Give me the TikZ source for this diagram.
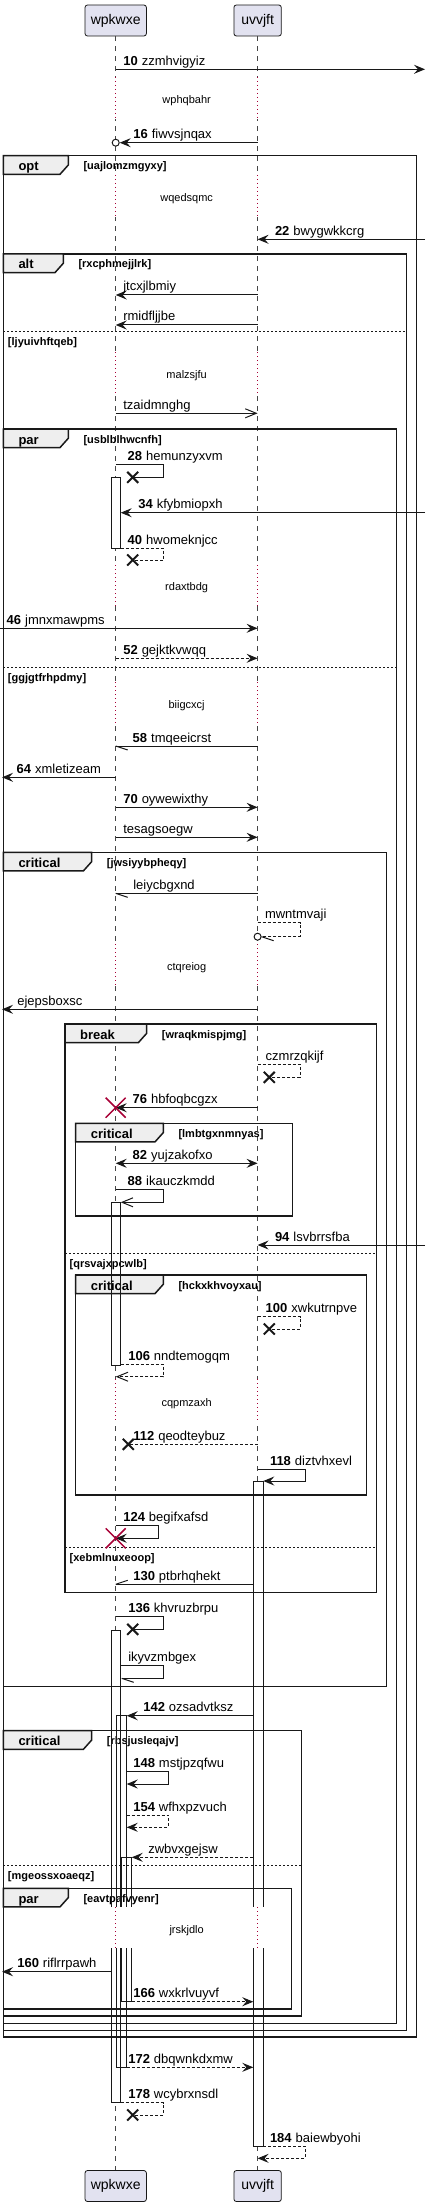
\documentclass[tikz,border=0pt]{standalone}
\usepackage{fontspec}
\setmainfont{Liberation Sans}
\usetikzlibrary{arrows.meta}
\definecolor{ln}{HTML}{181818}
\definecolor{partfill}{HTML}{E2E2F0}
\definecolor{tabfill}{HTML}{EEEEEE}
\definecolor{dlyc}{HTML}{A80036}
\def\sqA{115.7}
\def\sqB{257.6}
\newcommand{\sqMsg}[5]{\coordinate (#1a) at (#2,#4); \coordinate (#1b) at (#3,#4); \draw[#5] (#1a) -- (#1b);}
\newcommand{\sqSelf}[7]{\coordinate (#1a) at (#2,#4); \coordinate (#1b) at (#6,#5); \draw[#7] (#1a) -- (#3,#4) -- (#3,#5) -- (#1b);}
\newcommand{\sqLbl}[4]{\node[lbl] (#1) at (#2,#3) {#4};}
\newcommand{\sqNum}[2]{\textbf{#1}\hspace{4pt}#2}
\newcommand{\sqX}[5]{\coordinate (#1) at (#2,#3); \draw[#5] (#1) ++(-#4,-#4) -- ++(2*#4,2*#4) (#1) ++(-#4,#4) -- ++(2*#4,-2*#4);}
\newcommand{\sqFrame}[8]{%
 \draw[frm] (#2,#3) rectangle (#4,#5);
 \draw[frm,fill=tabfill] (#2,#3) -- (#6,#3) -- (#6,#3+9.3) -- (#6-8.3,#3+18.6) -- (#2,#3+18.6) -- cycle;
 \node[grp] (#1k) at (#2+15,#3+15) {#7};
 \node[cnd] (#1c) at (#6+15,#3+14) {#8};}
\newcommand{\sqElse}[5]{\draw[elsel] (#2,#4) -- (#3,#4); \node[cnd] (#1) at (#2+4.5,#4+14) {#5};}
\newcommand{\sqDelay}[5]{%
 \fill[white] (\sqA-2,#3) rectangle (\sqA+2,#4);
 \fill[white] (\sqB-2,#3) rectangle (\sqB+2,#4);
 \draw[dotl] (\sqA,#3) -- (\sqA,#4);
 \draw[dotl] (\sqB,#3) -- (\sqB,#4);
 \node[dly] (#1) at ({(\sqA+\sqB)/2},#2+4) {#5};}
\newcommand{\sqBars}[1]{%
 \path[#1] (111.7,477.7) rectangle (120.7,548.3);
 \path[#1] (111.7,1202.3) rectangle (120.7,1365);
 \path[#1] (111.7,1630) rectangle (120.7,2102.7);
 \path[#1] (116,1715.7) rectangle (126.7,2067.3);
 \path[#1] (121.7,1857.3) rectangle (131.7,2001);
 \path[#1] (253.3,1481) rectangle (263.3,2146);}
\begin{document}
\begin{tikzpicture}[x=1pt,y=-1pt,
 lbl/.style={font=\fontsize{13}{15}\selectfont, anchor=base west, inner sep=0pt, outer sep=0pt},
 dly/.style={font=\fontsize{11}{13}\selectfont, anchor=base, inner sep=0pt},
 grp/.style={font=\bfseries\fontsize{13}{15}\selectfont, anchor=base west, inner sep=0pt},
 cnd/.style={font=\bfseries\fontsize{11}{13}\selectfont, anchor=base west, inner sep=0pt},
 part/.style={draw=ln, fill=partfill, rounded corners=2.5pt, line width=0.8pt, font=\fontsize{14}{16}\selectfont, minimum height=31pt, inner sep=0pt},
 lifeline/.style={draw=ln!80, dash pattern=on 5pt off 5pt, line width=0.7pt},
 msg/.style={draw=ln, line width=1pt},
 dmsg/.style={msg, dash pattern=on 3pt off 2pt},
 frm/.style={draw=black!90, line width=1.5pt},
 elsel/.style={draw=black!90, line width=1pt, dash pattern=on 2pt off 2pt},
 barfill/.style={draw=ln, fill=white, line width=1pt},
 barline/.style={draw=ln, line width=1pt},
 dotl/.style={draw=dlyc, line width=1pt, dash pattern=on 1pt off 3pt},
 xk/.style={draw=ln, line width=2pt},
 rx/.style={draw=dlyc, line width=1.5pt},
 circ/.style={circle, draw=ln, fill=white, line width=1pt, inner sep=0pt, minimum size=7pt},
 fh/.tip={Stealth[length=11pt,width=9pt,inset=4pt]},
 oh/.tip={Straight Barb[length=11pt,width=9pt]}]
\useasboundingbox (0,0) rectangle (431,2207);
% participants and lifelines
\node[part, minimum width=61.4pt] (pA) at (\sqA,20.5) {wpkwxe};
\node[part, minimum width=47.4pt] (pB) at (\sqB,20.5) {uvvjft};
\node[part, minimum width=61.4pt] (pA2) at (\sqA,2186) {wpkwxe};
\node[part, minimum width=47.4pt] (pB2) at (\sqB,2186) {uvvjft};
\draw[lifeline] (pA.south) -- (pA2.north);
\draw[lifeline] (pB.south) -- (pB2.north);
% delays
\sqDelay{d1}{100}{77}{119}{wphqbahr}
\sqDelay{d2}{198}{175}{217}{wqedsqmc}
\sqDelay{d3}{374}{352}{393}{malzsjfu}
\sqDelay{d4}{586.7}{565}{606}{rdaxtbdg}
\sqDelay{d5}{704.3}{682}{726}{biigcxcj}
\sqDelay{d6}{966.7}{944}{985}{ctqreiog}
\sqDelay{d7}{1402.3}{1379}{1421}{cqpmzaxh}
% activation bars (filled)
\sqBars{barfill}
% frames
\sqFrame{f1}{3.3}{155.7}{416.7}{2037}{68.3}{opt}{[uajlomzmgyxy]}
\sqFrame{f2}{3.3}{254}{406.7}{2030.7}{63.3}{alt}{[rxcphmejjlrk]}
\sqElse{e2}{3.3}{406.7}{331.7}{[ljyuivhftqeb]}
\sqFrame{f3}{3.3}{429}{396.7}{2023.3}{68.3}{par}{[usblblhwcnfh]}
\sqElse{e3}{3.3}{396.7}{667.3}{[ggjgtfrhpdmy]}
\sqFrame{f4}{3.3}{852.3}{386.7}{1686.7}{91.7}{critical}{[jwsiyybpheqy]}
\sqFrame{f5}{65}{1024}{376.7}{1592.3}{146.7}{break}{[wraqkmispjmg]}
\sqElse{e5a}{65}{376.7}{1253.3}{[qrsvajxpcwlb]}
\sqElse{e5b}{65}{376.7}{1547.3}{[xebmlnuxeoop]}
\sqFrame{f6}{75.7}{1123.3}{292.3}{1216}{163.3}{critical}{[lmbtgxnmnyas]}
\sqFrame{f7}{75.7}{1275}{366.7}{1495}{163.3}{critical}{[hckxkhvoyxau]}
\sqFrame{f8}{3.3}{1730.7}{301.7}{2016}{91.7}{critical}{[rbsjusleqajv]}
\sqElse{e8}{3.3}{301.7}{1865.7}{[mgeossxoaeqz]}
\sqFrame{f9}{3.3}{1888.3}{291.7}{2009}{68.3}{par}{[eavtpafvyenr]}
% activation bar outlines on top
\sqBars{barline}
% delay across bars
\fill[white] (109,1907.3) rectangle (133.5,1948.3);
\fill[white] (251.5,1907.3) rectangle (265,1948.3);
\draw[dotl] (\sqA,1907.3) -- (\sqA,1948.3);
\draw[dotl] (\sqB,1907.3) -- (\sqB,1948.3);
\node[dly] (d8) at ({(\sqA+\sqB)/2},1933) {jrskjdlo};
% messages
\sqMsg{m10}{\sqA}{425}{69.3}{msg,-{fh}}
\sqLbl{t10}{123.3}{65.3}{\sqNum{10}{zzmhvigyiz}}
\node[circ] (c16) at (\sqA,142.7) {};
\coordinate (m16a) at (\sqB,142.7);
\draw[msg,-{fh}] (m16a) -- (c16.east);
\sqLbl{t16}{133.3}{138.7}{\sqNum{16}{fiwvsjnqax}}
\sqMsg{m22}{425}{\sqB}{239.3}{msg,-{fh}}
\sqLbl{t22}{275}{235.3}{\sqNum{22}{bwygwkkcrg}}
\sqMsg{mj}{\sqB}{\sqA}{295}{msg,-{fh}}
\sqLbl{tj}{123.3}{291}{jtcxjlbmiy}
\sqMsg{mr}{\sqB}{\sqA}{325}{msg,-{fh}}
\sqLbl{tr}{123.3}{321}{rmidfljjbe}
\sqMsg{mt}{\sqA}{\sqB}{413.3}{msg,-{oh}}
\sqLbl{tt}{123.3}{409.3}{tzaidmnghg}
\sqSelf{m28}{\sqA}{163.3}{464.3}{477.3}{132.7}{msg}
\sqX{x28}{132.7}{477.3}{5.5}{xk}
\sqLbl{t28}{127.7}{460.3}{\sqNum{28}{hemunzyxvm}}
\sqMsg{m34}{425}{120.7}{512.7}{msg,-{fh}}
\sqLbl{t34}{138.3}{508.7}{\sqNum{34}{kfybmiopxh}}
\sqSelf{m40}{120.7}{163.3}{548.3}{560}{132.7}{dmsg}
\sqX{x40}{132.7}{560}{5.5}{xk}
\sqLbl{t40}{127.7}{544.3}{\sqNum{40}{hwomeknjcc}}
\sqMsg{m46}{0}{\sqB}{628.3}{msg,-{fh}}
\sqLbl{t46}{6.7}{624.3}{\sqNum{46}{jmnxmawpms}}
\sqMsg{m52}{\sqA}{\sqB}{658.3}{dmsg,-{fh}}
\sqLbl{t52}{123.3}{654.3}{\sqNum{52}{gejktkvwqq}}
\sqMsg{m58}{\sqB}{\sqA}{746}{msg}
\draw[msg] (m58b) -- ++(12,4);
\sqLbl{t58}{132.7}{742}{\sqNum{58}{tmqeeicrst}}
\sqMsg{m64}{\sqA}{2}{777.3}{msg,-{fh}}
\sqLbl{t64}{16.7}{773.3}{\sqNum{64}{xmletizeam}}
\sqMsg{m70}{\sqA}{\sqB}{807.3}{msg,-{fh}}
\sqLbl{t70}{123.3}{803.3}{\sqNum{70}{oywewixthy}}
\sqMsg{mte}{\sqA}{\sqB}{837.3}{msg,-{fh}}
\sqLbl{tte}{123.3}{833.3}{tesagsoegw}
\sqMsg{mle}{\sqB}{\sqA}{893.3}{msg}
\draw[msg] (mleb) -- ++(12,4);
\sqLbl{tle}{133.3}{889.3}{leiycbgxnd}
\node[circ] (c18) at (\sqB,936.7) {};
\coordinate (mwa) at (\sqB,922.7);
\draw[dmsg] (mwa) -- (300,922.7) -- (300,936.7) -- (c18.east);
\draw[msg] (c18.east) -- ++(12,4);
\sqLbl{tmw}{265}{918.7}{mwntmvaji}
\sqMsg{mej}{\sqB}{2}{1009.3}{msg,-{fh}}
\sqLbl{tej}{17.3}{1005.3}{ejepsboxsc}
\sqSelf{mcz}{\sqB}{300}{1064.3}{1077.3}{269.3}{dmsg}
\sqX{xcz}{269.3}{1077.3}{5.5}{xk}
\sqLbl{tcz}{265.7}{1060.3}{czmrzqkijf}
\sqMsg{m76}{\sqB}{\sqA}{1107.7}{msg,-{fh}}
\sqX{x76}{\sqA}{1107.7}{10}{rx}
\sqLbl{t76}{132.7}{1103.7}{\sqNum{76}{hbfoqbcgzx}}
\sqMsg{m82}{\sqA}{\sqB}{1163.3}{msg,{fh}-{fh}}
\sqLbl{t82}{132.7}{1159.3}{\sqNum{82}{yujzakofxo}}
\sqSelf{m88}{\sqA}{163.3}{1189.3}{1202.3}{120.7}{msg,-{oh}}
\sqLbl{t88}{127.7}{1185.3}{\sqNum{88}{ikauczkmdd}}
\sqMsg{m94}{425}{\sqB}{1245}{msg,-{fh}}
\sqLbl{t94}{275}{1241}{\sqNum{94}{lsvbrrsfba}}
\sqSelf{m100}{\sqB}{300}{1316.7}{1329}{269.3}{dmsg}
\sqX{x100}{269.3}{1329}{5.5}{xk}
\sqLbl{t100}{265.7}{1312.7}{\sqNum{100}{xwkutrnpve}}
\sqSelf{m106}{120.7}{163.3}{1364.3}{1376.7}{\sqA}{dmsg,-{oh}}
\sqLbl{t106}{128.3}{1360.3}{\sqNum{106}{nndtemogqm}}
\sqMsg{m112}{\sqB}{128.3}{1444.3}{dmsg}
\sqX{x112}{128.3}{1444.3}{5.5}{xk}
\sqLbl{t112}{133.3}{1440.3}{\sqNum{112}{qeodteybuz}}
\sqSelf{m118}{\sqB}{305}{1469}{1481}{263.3}{msg,-{fh}}
\sqLbl{t118}{270}{1465}{\sqNum{118}{diztvhxevl}}
\sqSelf{m124}{\sqA}{158.3}{1525.7}{1538.3}{\sqA}{msg,-{fh}}
\sqX{x124}{\sqA}{1538.3}{10}{rx}
\sqLbl{t124}{123.3}{1521.7}{\sqNum{124}{begifxafsd}}
\sqMsg{m130}{253.3}{\sqA}{1584.3}{msg}
\draw[msg] (m130b) -- ++(12,-4);
\sqLbl{t130}{133.3}{1580.3}{\sqNum{130}{ptbrhqhekt}}
\sqSelf{m136}{\sqA}{163.3}{1616}{1629.3}{132.7}{msg}
\sqX{x136}{132.7}{1629.3}{5.5}{xk}
\sqLbl{t136}{128.3}{1612}{\sqNum{136}{khvruzbrpu}}
\sqSelf{mik}{120.7}{163.3}{1665.7}{1678.3}{121.7}{msg}
\draw[msg] (mikb) -- ++(12,4);
\sqLbl{tik}{128.3}{1661.7}{ikyvzmbgex}
\sqMsg{m142}{253.3}{126.7}{1715.7}{msg,-{fh}}
\sqLbl{t142}{143.3}{1711.7}{\sqNum{142}{ozsadvtksz}}
\sqSelf{m148}{126.7}{168.3}{1771.7}{1784}{126.7}{msg,-{fh}}
\sqLbl{t148}{133.3}{1767.7}{\sqNum{148}{mstjpzqfwu}}
\sqSelf{m154}{126.7}{168.3}{1815}{1827.3}{126.7}{dmsg,-{fh}}
\sqLbl{t154}{133.3}{1811}{\sqNum{154}{wfhxpzvuch}}
\sqMsg{mzw}{253.3}{131.7}{1857.3}{dmsg,-{fh}}
\sqLbl{tzw}{148.3}{1853.3}{zwbvxgejsw}
\sqMsg{m160}{111.7}{2}{1971.7}{msg,-{fh}}
\sqLbl{t160}{17.3}{1967.7}{\sqNum{160}{riflrrpawh}}
\sqMsg{m166}{131.7}{253.3}{2001.7}{dmsg,-{fh}}
\sqLbl{t166}{133.3}{1997.7}{\sqNum{166}{wxkrlvuyvf}}
\sqMsg{m172}{126.7}{253.3}{2067.3}{dmsg,-{fh}}
\sqLbl{t172}{128.3}{2063.3}{\sqNum{172}{dbqwnkdxmw}}
\sqSelf{m178}{120.7}{163.3}{2102.7}{2115}{132.7}{dmsg}
\sqX{x178}{132.7}{2115}{5.5}{xk}
\sqLbl{t178}{128.3}{2098.7}{\sqNum{178}{wcybrxnsdl}}
\sqSelf{m184}{263.3}{305}{2146}{2158.3}{\sqB}{dmsg,-{fh}}
\sqLbl{t184}{270}{2142}{\sqNum{184}{baiewbyohi}}
\end{tikzpicture}
\end{document}
